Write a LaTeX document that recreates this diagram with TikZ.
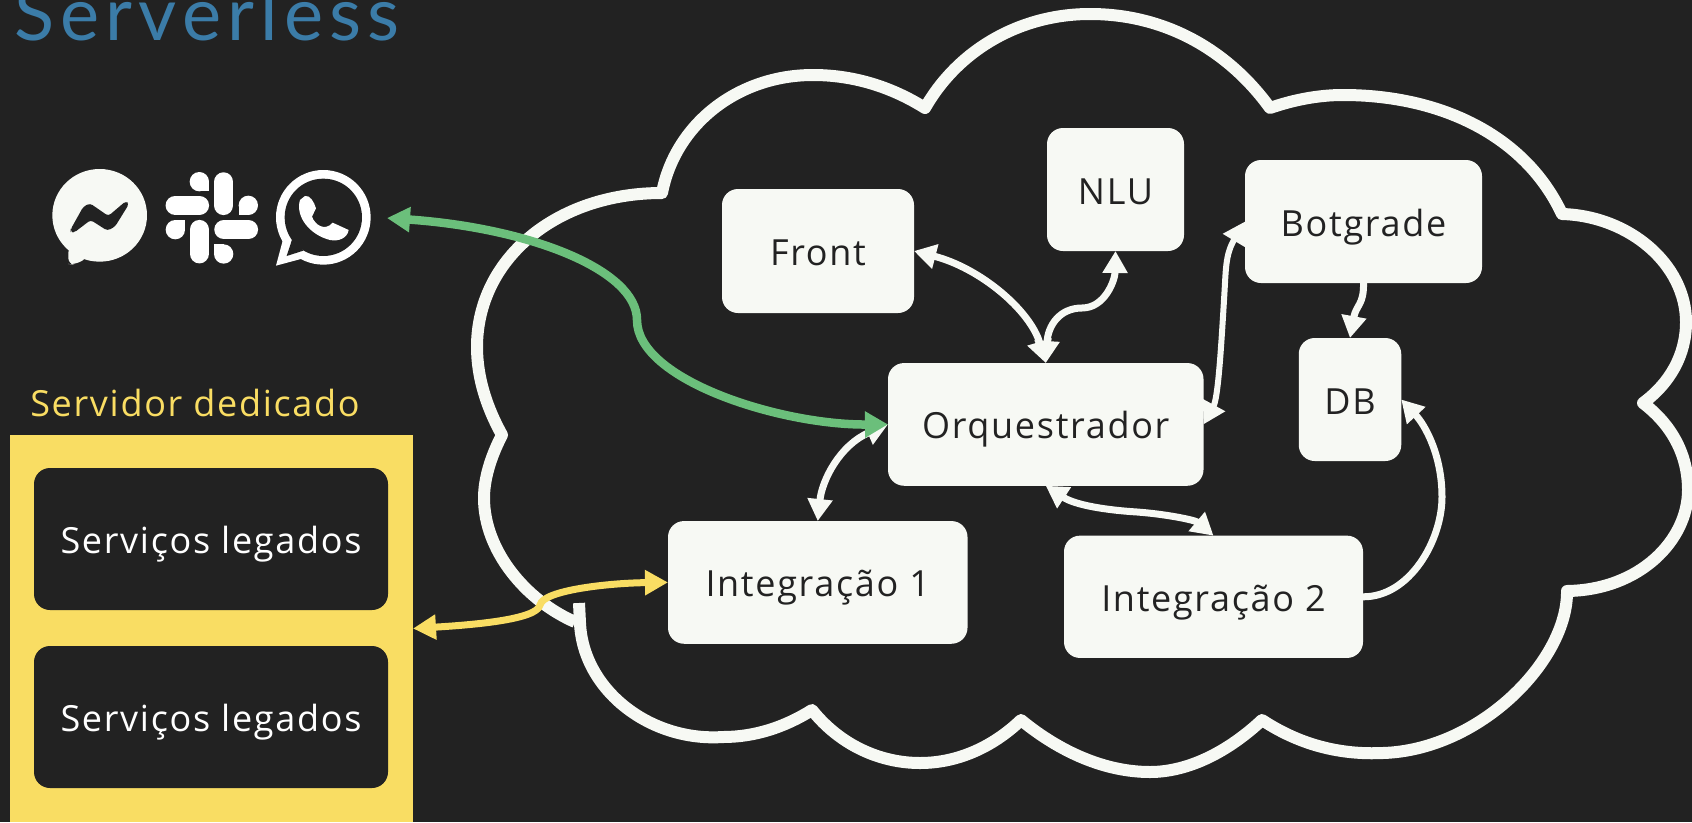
\documentclass[tikz,border=0pt]{standalone}
\usepackage{fontspec}
\setmainfont{Open Sans}[LetterSpace=4.7]
\newfontfamily\titlefont{Lato}[LetterSpace=8.4]
\usetikzlibrary{arrows.meta}
\definecolor{bgc}{HTML}{222222}
\definecolor{wht}{HTML}{F7F9F4}
\definecolor{ylw}{HTML}{F9DD63}
\definecolor{grn}{HTML}{6BBF7B}
\definecolor{blu}{HTML}{3B7CA8}
\tikzset{
  box/.style={fill=wht,text=bgc,rounded corners=16pt,inner sep=0pt,outer sep=0pt,
    font=\fontsize{36}{40}\selectfont,text height=29pt,text depth=0pt},
  legacy/.style={fill=bgc,text=white,rounded corners=16pt,inner sep=0pt,outer sep=0pt,
    minimum width=354pt,minimum height=142pt,
    font=\fontsize{36}{40}\selectfont,text height=29pt,text depth=0pt},
  link/.style={draw=wht,line width=7pt,{Triangle[length=22pt,width=24pt]}-{Triangle[length=22pt,width=24pt]}},
  cloudline/.style={draw=wht,line width=12pt,line join=round,line cap=butt},
  sl/.style={line width=19.5pt,line cap=round,draw=white},
}
\begin{document}
\begin{tikzpicture}[x=1pt,y=-1pt]
\fill[bgc] (0,0) rectangle (1692,822);
\clip (0,0) rectangle (1692,822);
\useasboundingbox (0,0) rectangle (1692,822);
% cloud
\draw[cloudline] (579,603) -- (580,623)
  .. controls (583,690) and (650,742) .. (723,737) .. controls (755,737) and (785,727) .. (812,710)
  .. controls (840,745) and (880,763) .. (920,763) .. controls (960,763) and (995,745) .. (1021,720)
  .. controls (1060,752) and (1105,772) .. (1150,772) .. controls (1190,772) and (1230,750) .. (1262,720)
  .. controls (1300,745) and (1340,755) .. (1383,753) .. controls (1480,750) and (1568,660) .. (1567,591)
  .. controls (1640,590) and (1688,540) .. (1688,490) .. controls (1688,455) and (1672,425) .. (1643,403)
  .. controls (1670,383) and (1686,355) .. (1686,322) .. controls (1686,265) and (1630,216) .. (1562,214)
  .. controls (1525,135) and (1440,95) .. (1343,95) .. controls (1318,95) and (1293,100) .. (1270,108)
  .. controls (1228,50) and (1165,14) .. (1090,14) .. controls (1020,14) and (958,50) .. (925,108)
  .. controls (890,86) and (852,75) .. (813,75) .. controls (737,75) and (675,125) .. (662,193)
  .. controls (555,193) and (477,260) .. (477,347) .. controls (477,378) and (487,408) .. (502,435)
  .. controls (490,458) and (484,480) .. (484,498) .. controls (484,550) and (525,600) .. (575,622);
% title and labels
\node[anchor=base west,text=blu,inner sep=0pt,font=\titlefont\fontsize{74}{80}\selectfont] (title) at (14,40) {Serverless};
\node[anchor=base,text=ylw,inner sep=0pt,font=\fontsize{36}{40}\selectfont] (srv) at (195,416) {Servidor dedicado};
% yellow server
\node[fill=ylw,inner sep=0pt,outer sep=0pt,minimum width=403pt,minimum height=387pt] (server) at (211.5,628.5) {};
\node[legacy] (leg1) at (211,539) {Serviços legados};
\node[legacy] (leg2) at (211,717) {Serviços legados};
% boxes
\node[box,minimum width=192pt,minimum height=124pt] (front) at (818,251) {Front};
\node[box,minimum width=137pt,minimum height=123pt] (nlu) at (1115.5,189.5) {NLU};
\node[box,minimum width=237pt,minimum height=123pt] (bot) at (1363.5,221.5) {Botgrade};
\node[box,minimum width=102.5pt,minimum height=123pt] (db) at (1350,399.5) {DB};
\node[box,minimum width=315.5pt,minimum height=122.7pt] (orq) at (1045.75,424.4) {Orquestrador};
\node[box,minimum width=299.5pt,minimum height=122.7pt] (int1) at (817.75,582.4) {Integração 1};
\node[box,minimum width=299pt,minimum height=122.3pt] (int2) at (1213.5,596.8) {Integração 2};
\coordinate (wa) at (387,218);
% white connectors
\draw[link] (front.east) .. controls (980,268) and (1030,310) .. (orq.north);
\draw[link] (orq.north) .. controls (1048,325) and (1060,308) .. (1082,308) .. controls (1105,308) and (1115,280) .. (nlu.south);
\draw[link,line width=6pt] (orq.east) .. controls (1218,398) and (1221,350) .. (1224,300) .. controls (1226,270) and (1225,255) .. (bot.west);
\draw[draw=wht,line width=7pt,-{Triangle[length=22pt,width=24pt]}] (bot.south) .. controls (1364,305) and (1356,305) .. (db.north);
\draw[draw=wht,line width=7pt,-{Triangle[length=22pt,width=24pt]}] (int2.east) .. controls (1410,597) and (1442,540) .. (1442,497) .. controls (1442,455) and (1425,425) .. (db.east);
\draw[link] (orq.south) .. controls (1075,505) and (1105,510) .. (1137,512) .. controls (1165,514) and (1195,520) .. (int2.north);
\draw[link] (int1.north) .. controls (822,480) and (840,445) .. (orq.west);
% yellow and green connectors
\draw[draw=ylw,line width=7pt,{Triangle[length=23pt,width=24pt]}-{Triangle[length=23pt,width=24pt]}] (server.east) .. controls (470,625) and (537,620) .. (540,605) .. controls (543,590) and (610,583) .. (int1.west);
\draw[draw=grn,line width=8.5pt,{Triangle[length=23pt,width=24pt]}-{Triangle[length=23pt,width=25pt]}] (wa) .. controls (530,228) and (637,270) .. (637,320) .. controls (637,380) and (780,425) .. (orq.west);
% icons
\begin{scope}[scale=1/3]
% messenger
\fill[wht] (299,646) ellipse (142 and 139);
\fill[wht,rounded corners=6pt] (205,740) -- (205,792) -- (222,794) -- (262,775) -- cycle;
\fill[bgc,rounded corners=3pt] (212,695) -- (212,688) -- (250,620) -- (270,610) -- (325,648) -- (378,603) -- (387,612) -- (345,680) -- (322,692) -- (272,660) -- (222,698) -- cycle;
% slack
\draw[sl] (671,546) -- (671,616);
\draw[sl] (526,616) -- (598,616);
\draw[sl] (672,689) -- (745,689);
\draw[sl] (598,689) -- (598,761);
\fill[white] (598,545) circle (29);
\fill[white] (598,545) rectangle (627,574);
\fill[white] (745,616) circle (29);
\fill[white] (716,616) rectangle (745,645);
\fill[white] (526,689) circle (29);
\fill[white] (526,660) rectangle (555,689);
\fill[white] (671,762) circle (29);
\fill[white] (642,733) rectangle (671,762);
% whatsapp
\fill[white] (970,652) circle (142);
\fill[white] (828,797) -- (850,715) -- (910,775) -- cycle;
\fill[bgc] (970,652) circle (116);
\fill[bgc] (860,768) -- (877,716) -- (910,752) -- cycle;
\fill[white] (915,588) .. controls (930,585) and (942,605) .. (948,625) -- (936,650)
  .. controls (945,675) and (975,695) .. (998,668) -- (1046,690)
  .. controls (1042,715) and (1015,725) .. (990,720)
  .. controls (930,705) and (885,650) .. (900,600) -- cycle;
\end{scope}
\end{tikzpicture}
\end{document}
